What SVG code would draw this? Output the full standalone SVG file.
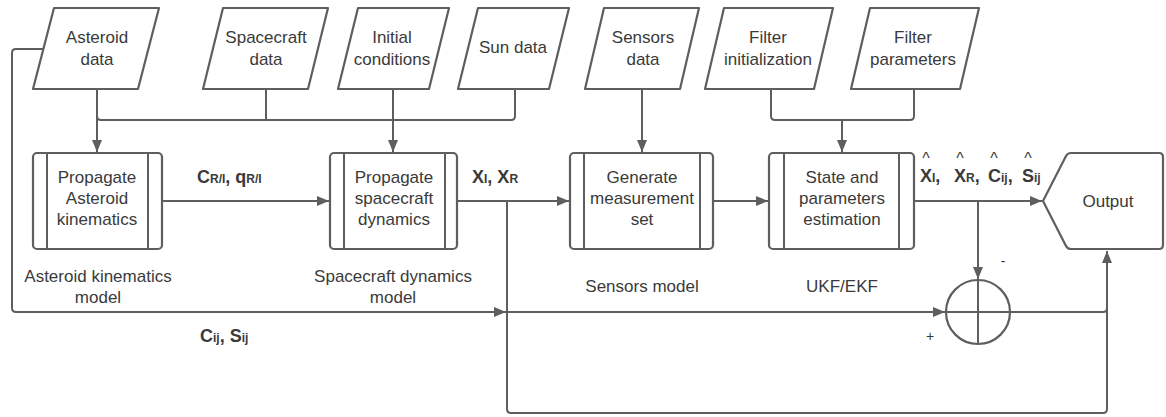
<svg xmlns="http://www.w3.org/2000/svg" width="1166" height="417" viewBox="0 0 1166 417">
<style>
.sh{fill:#fff;stroke:#5e5e5e;stroke-width:2.2;stroke-linejoin:round}
.ln{fill:none;stroke:#5e5e5e;stroke-width:2}
.t{font-family:"Liberation Sans",Arial,sans-serif;font-size:17px;fill:#3a3a3a;text-anchor:middle}
.b{font-family:"Liberation Sans",Arial,sans-serif;font-size:18px;font-weight:bold;fill:#3a3a3a}
.s{font-size:12px}
.h{font-family:"Liberation Sans",Arial,sans-serif;font-size:16px;fill:#3a3a3a;text-anchor:middle}
</style>
<defs>
<marker id="ar" markerUnits="userSpaceOnUse" markerWidth="13" markerHeight="11" refX="12" refY="5" orient="auto">
<path d="M0,0 L12,5 L0,10 Z" fill="#5e5e5e"/>
</marker>
</defs>
<rect width="1166" height="417" fill="#fff"/>
<g id="connectors">
<path class="ln" d="M97,89 V152" marker-end="url(#ar)"/>
<path class="ln" d="M97,116 q0,4 4,4 H511 q4,0 4,-4 V89"/>
<path class="ln" d="M266,89 V120"/>
<path class="ln" d="M393,89 V152" marker-end="url(#ar)"/>
<path class="ln" d="M642,89 V152" marker-end="url(#ar)"/>
<path class="ln" d="M771,89 V116 q0,4 4,4 H910 q4,0 4,-4 V89"/>
<path class="ln" d="M842,120 V152" marker-end="url(#ar)"/>
<path class="ln" d="M162,201 H329" marker-end="url(#ar)"/>
<path class="ln" d="M457,201 H569" marker-end="url(#ar)"/>
<path class="ln" d="M713,201 H768" marker-end="url(#ar)"/>
<path class="ln" d="M914,201 H1042" marker-end="url(#ar)"/>
<path class="ln" d="M507,201 V409 q0,4 4,4 H1103 q4,0 4,-4 V251" marker-end="url(#ar)"/>
<path class="ln" d="M978,201 V279" marker-end="url(#ar)"/>
<path class="ln" d="M43,49 H16 q-4,0 -4,4 V308 q0,4 4,4 H506" marker-end="url(#ar)"/>
<path class="ln" d="M507,312 H945" marker-end="url(#ar)"/>
<path class="ln" d="M1010,312 H1103 q4,0 4,-4"/>
</g>
<g id="asteroid-data">
<polygon class="sh" points="54,8 159,8 138,89 33,89"/>
<text class="t" x="97" y="43">Asteroid</text>
<text class="t" x="97" y="65">data</text>
</g>
<g id="spacecraft-data">
<polygon class="sh" points="223,8 328,8 308,89 203,89"/>
<text class="t" x="266" y="43">Spacecraft</text>
<text class="t" x="266" y="65">data</text>
</g>
<g id="initial-conditions">
<polygon class="sh" points="358,8 449,8 429,89 338,89"/>
<text class="t" x="392" y="43">Initial</text>
<text class="t" x="392" y="65">conditions</text>
</g>
<g id="sun-data">
<polygon class="sh" points="478,8 569,8 549,89 458,89"/>
<text class="t" x="513" y="53">Sun data</text>
</g>
<g id="sensors-data">
<polygon class="sh" points="604,8 699,8 680,89 585,89"/>
<text class="t" x="643" y="43">Sensors</text>
<text class="t" x="643" y="65">data</text>
</g>
<g id="filter-initialization">
<polygon class="sh" points="724,8 833,8 814,89 705,89"/>
<text class="t" x="768" y="43">Filter</text>
<text class="t" x="768" y="65">initialization</text>
</g>
<g id="filter-parameters">
<polygon class="sh" points="870,8 979,8 960,89 851,89"/>
<text class="t" x="913" y="43">Filter</text>
<text class="t" x="913" y="65">parameters</text>
</g>
<g id="propagate-asteroid">
<rect class="sh" x="33" y="153" width="129" height="96" rx="4"/>
<path class="ln" d="M47,153 V249 M148,153 V249"/>
<text class="t" x="97" y="183">Propagate</text>
<text class="t" x="97" y="204">Asteroid</text>
<text class="t" x="97" y="225">kinematics</text>
</g>
<g id="propagate-spacecraft">
<rect class="sh" x="330" y="153" width="127" height="96" rx="4"/>
<path class="ln" d="M344,153 V249 M445,153 V249"/>
<text class="t" x="394" y="183">Propagate</text>
<text class="t" x="394" y="204">spacecraft</text>
<text class="t" x="394" y="225">dynamics</text>
</g>
<g id="generate-measurement">
<rect class="sh" x="570" y="153" width="143" height="96" rx="4"/>
<path class="ln" d="M584,153 V249 M700,153 V249"/>
<text class="t" x="642" y="183">Generate</text>
<text class="t" x="642" y="204">measurement</text>
<text class="t" x="642" y="225">set</text>
</g>
<g id="state-estimation">
<rect class="sh" x="769" y="153" width="145" height="96" rx="4"/>
<path class="ln" d="M784,153 V249 M899,153 V249"/>
<text class="t" x="842" y="183">State and</text>
<text class="t" x="842" y="204">parameters</text>
<text class="t" x="842" y="225">estimation</text>
</g>
<g id="output">
<path class="sh" d="M1043,201 L1066,156 q1.5,-3 5,-3 H1159 q4,0 4,4 V245 q0,4 -4,4 H1071 q-3.5,0 -5,-3 Z"/>
<text class="t" x="1108" y="207">Output</text>
</g>
<g id="sum">
<circle class="sh" cx="978" cy="312" r="32"/>
<path class="ln" d="M978,280 V344 M946,312 H1010"/>
</g>
<g id="labels">
<text class="t" x="98" y="282">Asteroid kinematics</text>
<text class="t" x="98" y="303">model</text>
<text class="t" x="393" y="282">Spacecraft dynamics</text>
<text class="t" x="393" y="303">model</text>
<text class="t" x="642" y="292">Sensors model</text>
<text class="t" x="842" y="292">UKF/EKF</text>
<text class="b" x="197" y="183">C<tspan class="s">R/I</tspan>, q<tspan class="s">R/I</tspan></text>
<text class="b" x="472" y="183">X<tspan class="s">I</tspan>, X<tspan class="s">R</tspan></text>
<text class="b" x="920" y="182">X<tspan class="s">I</tspan>,</text>
<text class="b" x="954" y="182">X<tspan class="s">R</tspan>,</text>
<text class="b" x="988" y="182">C<tspan class="s">ij</tspan>,</text>
<text class="b" x="1022" y="182">S<tspan class="s">ij</tspan></text>
<text class="h" x="926" y="164">^</text>
<text class="h" x="960" y="164">^</text>
<text class="h" x="994" y="164">^</text>
<text class="h" x="1028" y="164">^</text>
<text class="b" x="200" y="342">C<tspan class="s">ij</tspan>, S<tspan class="s">ij</tspan></text>
<text class="h" x="1003" y="266" style="font-size:14px">-</text>
<text class="h" x="930" y="341" style="font-size:14px">+</text>
</g>
</svg>
